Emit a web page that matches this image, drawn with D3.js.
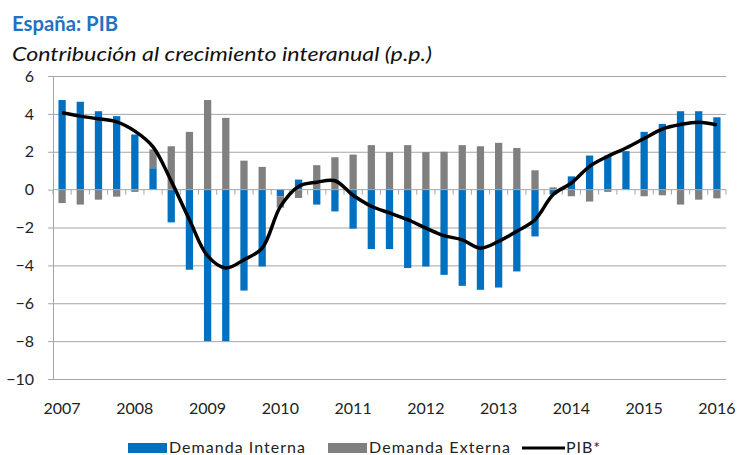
<!DOCTYPE html>
<html>
<head>
<meta charset="utf-8">
<script src="https://cdn.jsdelivr.net/npm/d3@7"></script>
<style>
  body { margin: 0; background: #fff; }
  text { font-family: Lato, "Liberation Sans", sans-serif; }
</style>
</head>
<body>
<div id="chart"></div>
<script>
// trimestres 2007T1 - 2016T1
const quarters = d3.range(37).map(i => `${2007 + Math.floor(i / 4)}T${(i % 4) + 1}`);
const yearLabels = ["2007", "2008", "2009", "2010", "2011", "2012", "2013", "2014", "2015", "2016"];
const yTicks = [-10, -8, -6, -4, -2, 0, 2, 4, 6];

// Demanda interna (p.p.)
const interna = [4.73, 4.64, 4.14, 3.88, 2.91, 1.13, -1.73, -4.23, -8.0, -8.0, -5.33, -4.06,
  -0.35, 0.53, -0.79, -1.15, -2.06, -3.14, -3.14, -4.14, -4.06, -4.5, -5.08, -5.29,
  -5.17, -4.32, -2.47, -0.25, 0.7, 1.8, 1.8, 2.03, 3.05, 3.47, 4.14, 4.14, 3.82];
// Demanda externa (p.p.)
const externa = [-0.71, -0.79, -0.53, -0.37, -0.12, 0.99, 2.29, 3.05, 4.73, 3.79, 1.53, 1.2,
  -0.6, -0.44, 1.29, 1.71, 1.85, 2.35, 1.98, 2.35, 1.98, 2.0, 2.35, 2.29,
  2.47, 2.2, 1.02, 0.12, -0.35, -0.63, -0.12, 0.0, -0.35, -0.3, -0.79, -0.53, -0.46];
// PIB (% interanual)
const pib = [4.06, 3.88, 3.74, 3.58, 3.09, 2.26, 0.45, -1.59, -3.5, -4.14, -3.7, -3.09,
  -0.9, 0.17, 0.39, 0.47, -0.3, -0.88, -1.23, -1.59, -2.03, -2.43, -2.65, -3.09,
  -2.73, -2.2, -1.59, -0.26, 0.35, 1.23, 1.76, 2.2, 2.7, 3.2, 3.44, 3.56, 3.42];

const width = 740;
const height = 455;
const plot = { left: 53, right: 726, top: 76, bottom: 379 };

const blue = "#0070c0";
const grey = "#808080";
const gridColor = "#a6a6a6";

const svg = d3.select("#chart").append("svg")
  .attr("width", width)
  .attr("height", height);

// titulo
svg.append("text")
  .attr("x", 12).attr("y", 31)
  .attr("font-size", 21).attr("font-weight", "bold")
  .attr("fill", "#1f73c2")
  .attr("textLength", 106).attr("lengthAdjust", "spacingAndGlyphs")
  .text("España: PIB");

svg.append("text")
  .attr("x", 12).attr("y", 61)
  .attr("font-size", 19).attr("font-style", "italic")
  .attr("fill", "#111")
  .attr("textLength", 420).attr("lengthAdjust", "spacingAndGlyphs")
  .text("Contribución al crecimiento interanual (p.p.)");

const x = d3.scaleBand()
  .domain(quarters)
  .range([plot.left, plot.right])
  .paddingInner(0.6)
  .paddingOuter(0.3);

const y = d3.scaleLinear()
  .domain([-10, 6])
  .range([plot.bottom, plot.top]);

// lineas de cuadricula + eje y
const yAxis = d3.axisLeft(y).tickValues(yTicks).tickSize(5).tickPadding(14)
  .tickFormat(d3.format("d"));
const gy = svg.append("g")
  .attr("transform", `translate(${plot.left},0)`)
  .call(yAxis);
gy.select(".domain").attr("stroke", gridColor);
gy.selectAll(".tick line").attr("stroke", gridColor);
gy.selectAll(".tick text")
  .attr("font-size", 16).attr("fill", "#222")
  .style("font-family", "Lato, sans-serif");
gy.selectAll(".tick").filter(d => d !== 0)
  .append("line")
  .attr("x1", 0).attr("x2", plot.right - plot.left)
  .attr("stroke", gridColor);

// barras apiladas (positivos arriba, negativos abajo)
const rows = quarters.map((q, i) => ({ q, interna: interna[i], externa: externa[i] }));
const stack = d3.stack()
  .keys(["interna", "externa"])
  .offset(d3.stackOffsetDiverging);
const series = stack(rows);
const colors = { interna: blue, externa: grey };

svg.append("g").selectAll("g")
  .data(series)
  .join("g")
  .attr("fill", d => colors[d.key])
  .selectAll("rect")
  .data(d => d)
  .join("rect")
  .attr("x", d => x(d.data.q))
  .attr("width", x.bandwidth())
  .attr("y", d => y(Math.max(d[0], d[1])))
  .attr("height", d => Math.abs(y(d[0]) - y(d[1])));

// eje de categorias en el cero
const catAxis = svg.append("g").attr("transform", `translate(0,${y(0)})`);
catAxis.append("line")
  .attr("x1", plot.left).attr("x2", plot.right)
  .attr("stroke", gridColor);
catAxis.selectAll("line.tk")
  .data(d3.range(quarters.length + 1))
  .join("line")
  .attr("class", "tk")
  .attr("x1", i => plot.left + i * x.step())
  .attr("x2", i => plot.left + i * x.step())
  .attr("y1", 0).attr("y2", 5)
  .attr("stroke", gridColor);

// etiquetas de anos abajo
svg.append("g").selectAll("text")
  .data(yearLabels)
  .join("text")
  .attr("x", (d, i) => x(quarters[i * 4]) + x.bandwidth() / 2)
  .attr("y", 414)
  .attr("text-anchor", "middle")
  .attr("font-size", 16)
  .attr("fill", "#222")
  .text(d => d);

// linea PIB
const line = d3.line()
  .x((d, i) => x(quarters[i]) + x.bandwidth() / 2)
  .y(d => y(d))
  .curve(d3.curveCatmullRom.alpha(0.5));

svg.append("path")
  .datum(pib)
  .attr("fill", "none")
  .attr("stroke", "#000")
  .attr("stroke-width", 3.5)
  .attr("stroke-linejoin", "round")
  .attr("d", line);

// leyenda
const legend = svg.append("g").attr("font-size", 16).attr("fill", "#222");
legend.append("rect").attr("x", 128).attr("y", 443).attr("width", 39).attr("height", 10).attr("fill", blue);
legend.append("text").attr("x", 169).attr("y", 453)
  .attr("textLength", 136).attr("lengthAdjust", "spacing").text("Demanda Interna");
legend.append("rect").attr("x", 328).attr("y", 443).attr("width", 39).attr("height", 10).attr("fill", grey);
legend.append("text").attr("x", 369).attr("y", 453)
  .attr("textLength", 141).attr("lengthAdjust", "spacing").text("Demanda Externa");
legend.append("line").attr("x1", 522).attr("x2", 565).attr("y1", 448).attr("y2", 448)
  .attr("stroke", "#000").attr("stroke-width", 3);
legend.append("text").attr("x", 566).attr("y", 453)
  .attr("textLength", 34).attr("lengthAdjust", "spacing").text("PIB*");
</script>
</body>
</html>
